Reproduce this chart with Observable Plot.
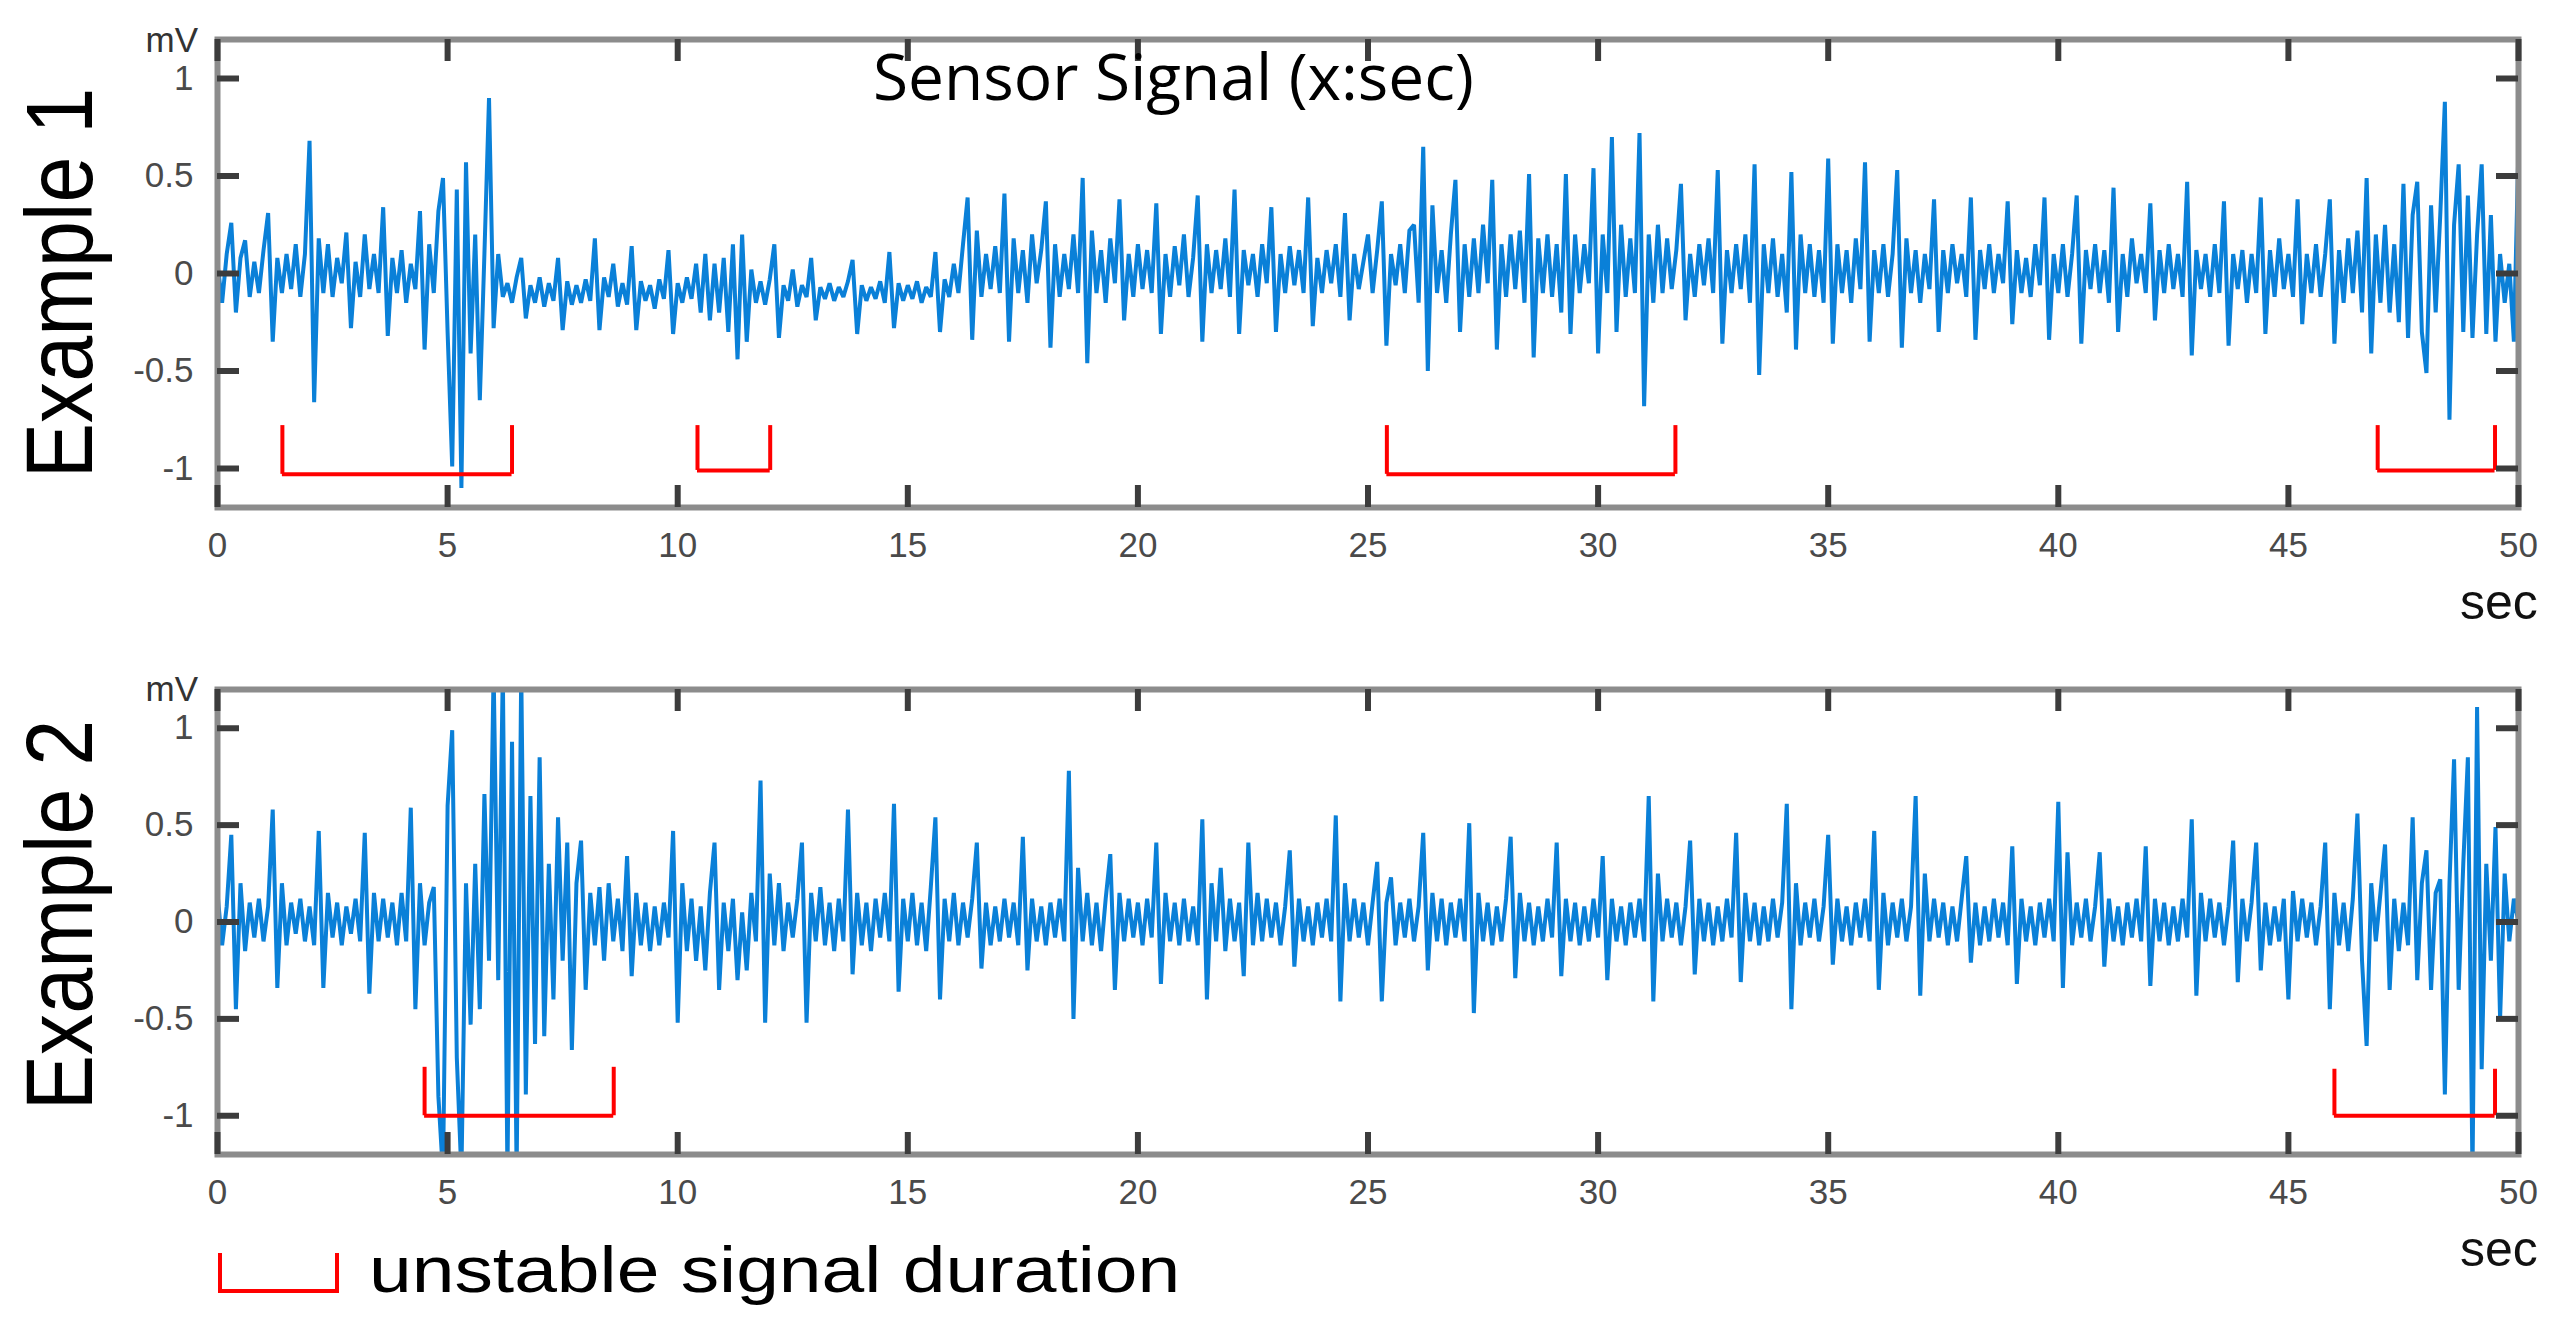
<!DOCTYPE html>
<html>
<head>
<meta charset="utf-8">
<script src="https://cdn.jsdelivr.net/npm/d3@7"></script>
<script src="https://cdn.jsdelivr.net/npm/@observablehq/plot@0.6"></script>
<style>
  html, body { margin: 0; padding: 0; background: #ffffff; }
  #page { position: relative; width: 2558px; height: 1321px; overflow: hidden; background: #ffffff; }
  .panel { position: absolute; left: 0; }
  #overlay { position: absolute; left: 0; top: 0; pointer-events: none; }
</style>
</head>
<body>
<div id="page">
  <div id="panel1" class="panel" style="top:0px"></div>
  <div id="panel2" class="panel" style="top:640px"></div>
</div>
<script>
// ---------------- data ----------------
const sampleStep = 0.1; // seconds between samples

// Example 1 signal (mV), one value every 0.1 s from 0 to 50 s
const example1 = [
  0.05,-0.15,0.1,0.26,-0.2,0.08,0.17,-0.12,0.06,-0.1,
  0.12,0.31,-0.35,0.08,-0.1,0.1,-0.08,0.15,-0.12,0.1,
  0.68,-0.66,0.18,-0.1,0.15,-0.12,0.08,-0.05,0.21,-0.28,
  0.06,-0.12,0.2,-0.08,0.1,-0.1,0.34,-0.32,0.08,-0.1,
  0.12,-0.15,0.05,-0.08,0.32,-0.39,0.15,-0.1,0.32,0.49,
  -0.3,-0.99,0.43,-1.1,0.57,-0.41,0.2,-0.65,0.1,0.9,
  -0.28,0.1,-0.12,-0.05,-0.15,-0.02,0.08,-0.23,-0.06,-0.15,
  -0.02,-0.17,-0.05,-0.14,0.08,-0.29,-0.04,-0.16,-0.06,-0.15,
  -0.03,-0.14,0.18,-0.29,-0.02,-0.12,0.05,-0.17,-0.05,-0.16,
  0.14,-0.29,-0.04,-0.14,-0.06,-0.18,-0.03,-0.13,0.12,-0.31,
  -0.05,-0.15,-0.02,-0.13,0.05,-0.2,0.1,-0.24,0.05,-0.2,
  0.08,-0.3,0.15,-0.44,0.2,-0.35,0.02,-0.15,-0.04,-0.16,
  -0.03,0.15,-0.33,-0.06,-0.14,0.02,-0.17,-0.06,-0.12,0.08,
  -0.24,-0.07,-0.13,-0.05,-0.14,-0.07,-0.12,-0.04,0.07,-0.31,
  -0.06,-0.14,-0.07,-0.13,-0.04,-0.15,0.11,-0.28,-0.05,-0.14,
  -0.06,-0.13,-0.04,-0.15,-0.07,-0.12,0.11,-0.3,-0.03,-0.12,
  0.05,-0.1,0.15,0.39,-0.34,0.22,-0.12,0.1,-0.08,0.14,
  -0.1,0.41,-0.35,0.18,-0.1,0.12,-0.15,0.2,-0.05,0.12,
  0.37,-0.38,0.15,-0.12,0.1,-0.08,0.2,-0.1,0.49,-0.46,
  0.22,-0.1,0.12,-0.15,0.18,-0.05,0.38,-0.24,0.1,-0.12,
  0.15,-0.08,0.12,-0.1,0.36,-0.31,0.1,-0.12,0.14,-0.06,
  0.2,-0.12,0.08,0.4,-0.35,0.15,-0.1,0.12,-0.08,0.18,
  -0.12,0.43,-0.31,0.12,-0.06,0.1,-0.12,0.15,-0.05,0.34,
  -0.3,0.1,-0.1,0.14,-0.06,0.12,-0.1,0.39,-0.27,0.08,
  -0.1,0.12,-0.05,0.15,-0.12,0.31,-0.24,0.1,-0.08,0.06,
  0.2,-0.1,0.12,0.37,-0.37,0.1,-0.06,0.15,-0.1,0.22,
  0.25,-0.15,0.65,-0.5,0.35,-0.1,0.12,-0.15,0.2,0.48,
  -0.3,0.15,-0.12,0.18,-0.1,0.25,-0.05,0.48,-0.39,0.15,
  -0.12,0.2,-0.08,0.22,-0.15,0.51,-0.43,0.18,-0.1,0.2,
  -0.12,0.15,-0.2,0.51,-0.31,0.2,-0.1,0.15,-0.05,0.54,
  -0.41,0.2,-0.1,0.7,-0.3,0.25,-0.12,0.18,-0.1,0.72,
  -0.68,0.2,-0.15,0.25,-0.1,0.18,-0.08,0.12,0.46,-0.24,
  0.1,-0.12,0.15,-0.06,0.18,-0.1,0.53,-0.36,0.12,-0.1,
  0.15,-0.08,0.2,-0.15,0.56,-0.52,0.15,-0.1,0.18,-0.12,
  0.1,-0.2,0.52,-0.39,0.2,-0.1,0.15,-0.12,0.12,-0.15,
  0.59,-0.36,0.15,-0.1,0.12,-0.15,0.18,-0.08,0.57,-0.35,
  0.12,-0.1,0.15,-0.12,0.1,0.53,-0.38,0.18,-0.1,0.12,
  -0.15,0.1,-0.08,0.38,-0.3,0.12,-0.1,0.15,-0.05,0.1,
  -0.12,0.39,-0.34,0.12,-0.08,0.15,-0.1,0.1,-0.05,0.37,
  -0.26,0.12,-0.1,0.08,-0.12,0.15,-0.06,0.39,-0.34,0.1,
  -0.1,0.15,-0.12,0.1,0.4,-0.36,0.12,-0.08,0.15,-0.1,
  0.12,-0.15,0.44,-0.3,0.1,-0.12,0.18,-0.05,0.1,-0.1,
  0.36,-0.24,0.12,-0.1,0.15,-0.08,0.1,-0.12,0.47,-0.42,
  0.12,-0.08,0.1,-0.12,0.15,-0.1,0.37,-0.37,0.1,-0.08,
  0.12,-0.15,0.1,-0.1,0.39,-0.31,0.12,-0.12,0.18,-0.08,
  0.1,-0.12,0.38,-0.26,0.1,-0.1,0.15,-0.12,0.1,0.38,
  -0.36,0.12,-0.15,0.18,-0.1,0.22,-0.2,0.49,-0.41,0.2,
  -0.15,0.25,-0.2,0.15,-0.25,0.46,-0.33,0.3,0.47,-0.3,
  -0.51,0.35,-0.2,0.3,0.88,-0.75,0.25,0.56,-0.3,0.4,
  -0.33,0.2,0.56,-0.31,0.3,-0.35,0.1,-0.15,0.05,-0.35,
  0.66
];

// Example 2 signal (mV), one value every 0.1 s from 0 to 50 s
const example2 = [
  0.15,-0.12,0.08,0.45,-0.45,0.2,-0.15,0.1,-0.08,0.12,
  -0.1,0.08,0.58,-0.34,0.2,-0.12,0.1,-0.06,0.12,-0.1,
  0.08,-0.12,0.47,-0.34,0.15,-0.08,0.1,-0.12,0.08,-0.06,
  0.12,-0.1,0.46,-0.37,0.15,-0.1,0.12,-0.08,0.1,-0.12,
  0.15,-0.1,0.59,-0.45,0.2,-0.12,0.1,0.18,-0.9,-1.3,
  0.6,0.99,-0.7,-1.3,0.2,-0.53,0.3,-0.45,0.66,-0.2,
  1.3,-0.3,1.3,-1.3,0.93,-1.3,1.3,-0.89,0.65,-0.63,
  0.85,-0.59,0.3,-0.4,0.54,-0.2,0.41,-0.66,0.2,0.42,
  -0.35,0.15,-0.12,0.18,-0.2,0.2,-0.1,0.12,-0.15,0.34,
  -0.28,0.15,-0.12,0.1,-0.15,0.08,-0.12,0.1,-0.08,0.47,
  -0.52,0.2,-0.15,0.12,-0.2,0.08,-0.25,0.15,0.41,-0.35,
  0.1,-0.15,0.12,-0.3,0.05,-0.25,0.15,-0.1,0.73,-0.52,
  0.25,-0.12,0.2,-0.15,0.1,-0.08,0.12,0.41,-0.52,0.15,
  -0.1,0.18,-0.12,0.1,-0.15,0.12,-0.1,0.58,-0.27,0.15,
  -0.12,0.1,-0.15,0.12,-0.08,0.15,-0.1,0.61,-0.36,0.12,
  -0.1,0.15,-0.12,0.1,-0.15,0.18,0.54,-0.4,0.12,-0.1,
  0.15,-0.12,0.1,-0.08,0.12,0.41,-0.24,0.1,-0.12,0.08,
  -0.1,0.12,-0.08,0.1,-0.12,0.44,-0.25,0.12,-0.1,0.08,
  -0.12,0.1,-0.08,0.12,-0.1,0.78,-0.5,0.28,-0.1,0.15,
  -0.12,0.1,-0.15,0.12,0.35,-0.35,0.15,-0.1,0.12,-0.08,
  0.1,-0.12,0.12,-0.08,0.41,-0.32,0.15,-0.1,0.1,-0.12,
  0.12,-0.1,0.08,-0.12,0.53,-0.4,0.2,-0.1,0.28,-0.15,
  0.12,-0.1,0.1,-0.28,0.41,-0.12,0.15,-0.1,0.12,-0.08,
  0.1,-0.12,0.08,0.37,-0.23,0.12,-0.1,0.08,-0.12,0.1,
  -0.08,0.12,-0.1,0.55,-0.41,0.2,-0.1,0.12,-0.08,0.1,
  -0.12,0.1,0.31,-0.41,0.1,0.23,-0.12,0.1,-0.08,0.12,
  -0.1,0.08,0.46,-0.25,0.15,-0.1,0.12,-0.12,0.1,-0.08,
  0.12,-0.1,0.51,-0.47,0.15,-0.1,0.1,-0.12,0.08,-0.1,
  0.12,0.44,-0.29,0.15,-0.1,0.1,-0.12,0.08,-0.1,0.12,
  -0.08,0.41,-0.28,0.12,-0.1,0.1,-0.12,0.08,-0.1,0.12,
  -0.08,0.34,-0.3,0.12,-0.1,0.08,-0.12,0.1,-0.08,0.12,
  -0.1,0.65,-0.41,0.25,-0.1,0.12,-0.08,0.1,-0.12,0.08,
  0.42,-0.27,0.12,-0.1,0.1,-0.12,0.08,-0.1,0.12,-0.08,
  0.46,-0.31,0.15,-0.1,0.1,-0.12,0.08,-0.1,0.12,-0.08,
  0.1,0.61,-0.45,0.2,-0.12,0.1,-0.08,0.12,-0.1,0.08,
  0.45,-0.22,0.12,-0.1,0.08,-0.12,0.1,-0.08,0.12,-0.1,
  0.47,-0.35,0.15,-0.12,0.1,-0.08,0.12,-0.1,0.08,0.65,
  -0.38,0.25,-0.1,0.12,-0.08,0.1,-0.12,0.08,-0.1,0.12,
  0.34,-0.21,0.1,-0.12,0.08,-0.1,0.12,-0.08,0.1,-0.12,
  0.39,-0.32,0.12,-0.1,0.08,-0.12,0.1,-0.08,0.12,-0.1,
  0.62,-0.34,0.36,-0.12,0.1,-0.08,0.12,-0.1,0.08,0.36,
  -0.23,0.12,-0.1,0.08,-0.12,0.1,-0.08,0.12,-0.1,0.39,
  -0.33,0.12,-0.1,0.1,-0.12,0.08,-0.1,0.12,-0.08,0.53,
  -0.38,0.15,-0.1,0.12,-0.08,0.1,-0.12,0.08,0.42,-0.31,
  0.12,-0.1,0.1,0.41,-0.25,0.1,-0.12,0.08,-0.1,0.12,
  -0.4,0.16,-0.1,0.12,-0.08,0.1,-0.12,0.08,0.41,-0.45,
  0.15,-0.12,0.1,-0.15,0.12,0.56,-0.2,-0.64,0.2,-0.1,
  0.15,0.4,-0.35,0.12,-0.15,0.1,-0.12,0.54,-0.3,0.2,
  0.37,-0.35,0.15,0.22,-0.89,0.2,0.84,-0.35,0.3,0.85,
  -1.3,1.11,-0.76,0.3,-0.2,0.49,-0.5,0.25,-0.1,0.12,
  0.0
];

// unstable-signal brackets (seconds / mV)
const bracketStart1 = [1.41, 10.43, 25.41, 46.94];
const bracketEnd1 = [6.40, 12.01, 31.68, 49.49];
const bracketTop1 = [-0.78, -0.78, -0.78, -0.78];
const bracketBottom1 = [-1.03, -1.01, -1.03, -1.01];

const bracketStart2 = [4.50, 46.00];
const bracketEnd2 = [8.61, 49.49];
const bracketTop2 = [-0.75, -0.76];
const bracketBottom2 = [-1.00, -1.00];

const xTicks = [0, 5, 10, 15, 20, 25, 30, 35, 40, 45, 50];
const yTicks = [-1, -0.5, 0, 0.5, 1];
const yDomain = [-1.2, 1.2];
const xDomain = [0, 50];

const titleText = "Sensor Signal (x:sec)";
const panelLabels = ["Example 1", "Example 2"];
const unitY = "mV";
const unitX = "sec";
const legendText = "unstable signal duration";

// ---------------- drawing ----------------
const W = 2558;
const ML = 217, MR = 40;
const lineColor = "#0a80d8";
const tickColor = "#3c3c3c";
const labelColor = "#4a4a4a";
const TICK_PX = 22;

function panel(values, bStart, bEnd, bTop, bBottom, height, marginTop, marginBottom) {
  const series = values.map((v, i) => ({t: +(i * sampleStep).toFixed(2), v}));
  const brackets = bStart.map((s, i) => ({start: s, end: bEnd[i], top: bTop[i], bottom: bBottom[i]}));
  const frameH = height - marginTop - marginBottom;
  const frameW = W - ML - MR;
  const ty = TICK_PX * (yDomain[1] - yDomain[0]) / frameH;
  const tx = TICK_PX * (xDomain[1] - xDomain[0]) / frameW;
  const tickStyle = {stroke: tickColor, strokeWidth: 6};
  return Plot.plot({
    width: W, height,
    marginLeft: ML, marginRight: MR, marginTop, marginBottom,
    style: {background: "transparent", fontFamily: "'Liberation Sans', Arial, sans-serif", overflow: "visible"},
    x: {domain: xDomain},
    y: {domain: yDomain},
    marks: [
      Plot.line(series, {x: "t", y: "v", stroke: lineColor, strokeWidth: 4, strokeLinejoin: "miter", strokeMiterlimit: 2, clip: true}),
      Plot.ruleY(brackets, {y: "bottom", x1: "start", x2: "end", stroke: "#ff0000", strokeWidth: 4}),
      Plot.ruleX(brackets, {x: "start", y1: "bottom", y2: "top", stroke: "#ff0000", strokeWidth: 4}),
      Plot.ruleX(brackets, {x: "end", y1: "bottom", y2: "top", stroke: "#ff0000", strokeWidth: 4}),
      Plot.frame({stroke: "#8c8c8c", strokeWidth: 6}),
      // inward tick marks on all four sides (length converted from pixels to data units)
      Plot.ruleX(xTicks, {x: d => d, y1: yDomain[0], y2: yDomain[0] + ty, ...tickStyle}),
      Plot.ruleX(xTicks, {x: d => d, y1: yDomain[1], y2: yDomain[1] - ty, ...tickStyle}),
      Plot.ruleY(yTicks, {y: d => d, x1: xDomain[0], x2: xDomain[0] + tx, ...tickStyle}),
      Plot.ruleY(yTicks, {y: d => d, x1: xDomain[1], x2: xDomain[1] - tx, ...tickStyle}),
      Plot.axisX(xTicks, {anchor: "bottom", tickSize: 0, tickPadding: 25, fontSize: 35, color: labelColor}),
      Plot.axisY(yTicks, {anchor: "left", tickSize: 0, tickPadding: 24, fontSize: 35, color: labelColor, tickFormat: d => String(d)})
    ]
  });
}

document.getElementById("panel1").append(
  panel(example1, bracketStart1, bracketEnd1, bracketTop1, bracketBottom1, 600, 39, 93)
);
document.getElementById("panel2").append(
  panel(example2, bracketStart2, bracketEnd2, bracketTop2, bracketBottom2, 620, 49, 106)
);

// annotation overlay (text labels and legend)
const svg = d3.select("#page").append("svg")
  .attr("id", "overlay").attr("width", W).attr("height", 1321)
  .style("font-family", "'Liberation Sans', Arial, sans-serif");

// title
svg.append("text").attr("x", 873).attr("y", 100)
  .style("font-family", "'Open Sans', 'Noto Sans', sans-serif")
  .attr("font-size", 64).attr("fill", "#000").text(titleText);

// mV units
[[198, 52], [198, 701]].forEach(([x, y]) => {
  svg.append("text").attr("x", x).attr("y", y).attr("text-anchor", "end")
    .attr("font-size", 35).attr("fill", "#333").text(unitY);
});

// sec units
[[2460, 619], [2460, 1266]].forEach(([x, y]) => {
  svg.append("text").attr("x", x).attr("y", y)
    .attr("font-size", 50).attr("fill", "#111").text(unitX);
});

// panel labels (rotated)
[[92, 283], [92, 915]].forEach(([x, y], i) => {
  svg.append("text")
    .attr("transform", `translate(${x},${y}) rotate(-90) scale(0.88,1)`)
    .attr("text-anchor", "middle").attr("font-size", 94).attr("fill", "#000")
    .text(panelLabels[i]);
});

// legend
svg.append("path").attr("d", "M220,1253 V1291 H337 V1253")
  .attr("fill", "none").attr("stroke", "#ff0000").attr("stroke-width", 4);
svg.append("text").attr("transform", "translate(369,1292) scale(1.2,1)")
  .attr("font-size", 64).attr("fill", "#000").text(legendText);
</script>
</body>
</html>
